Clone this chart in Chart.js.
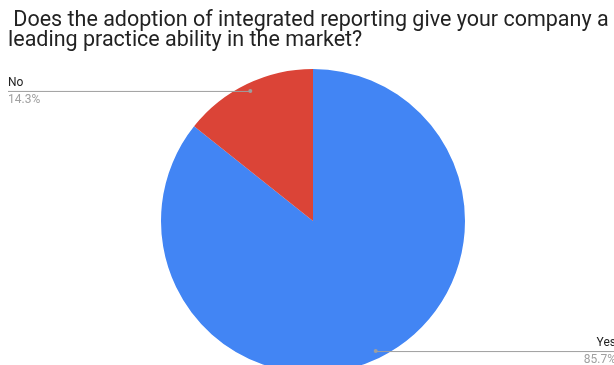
<!DOCTYPE html>
<html>
<head>
<meta charset="utf-8">
<script src="https://cdn.jsdelivr.net/npm/chart.js@4/dist/chart.umd.min.js"></script>
<style>
  body { margin: 0; background: #fff; overflow: hidden; }
  .wrap { position: relative; width: 614px; height: 365px; overflow: hidden; }
  .title {
    position: absolute; left: 8px; top: 9px; width: 660px;
    font-family: Roboto, sans-serif; font-size: 21.5px; line-height: 20px;
    color: #222; white-space: pre;
  }
  canvas { position: absolute; left: 0; top: 0; }
</style>
</head>
<body>
<div class="wrap">
  <canvas id="pie" width="614" height="380"></canvas>
  <div class="title"> Does the adoption of integrated reporting give your company a
leading practice ability in the market?</div>
</div>
<script>
const labels = ['Yes', 'No'];
const values = [85.7, 14.3];
const sliceColors = ['#4285f4', '#db4437'];

// leader lines with label + percentage, like the Google Sheets pie
const leaderLabels = {
  id: 'leaderLabels',
  afterDatasetsDraw(chart) {
    const ctx = chart.ctx;
    const meta = chart.getDatasetMeta(0);
    ctx.save();
    meta.data.forEach((arc, i) => {
      const mid = (arc.startAngle + arc.endAngle) / 2;
      const r = arc.outerRadius * 0.95;
      const px = arc.x + Math.cos(mid) * r;
      const py = arc.y + Math.sin(mid) * r;
      const toLeft = Math.cos(mid) < 0;
      const endX = toLeft ? 8 : chart.width;

      ctx.strokeStyle = '#9e9e9e';
      ctx.lineWidth = 1;
      ctx.beginPath();
      ctx.moveTo(px, py + 0.5);
      ctx.lineTo(endX, py + 0.5);
      ctx.stroke();

      ctx.fillStyle = '#9e9e9e';
      ctx.beginPath();
      ctx.arc(px, py, 2, 0, Math.PI * 2);
      ctx.fill();

      ctx.font = '12px Roboto, sans-serif';
      ctx.textAlign = toLeft ? 'left' : 'right';
      const tx = toLeft ? 8 : chart.width + 2;
      ctx.fillStyle = '#222';
      ctx.textBaseline = 'bottom';
      ctx.fillText(labels[i], tx, py - 2);
      ctx.fillStyle = '#a0a0a0';
      ctx.textBaseline = 'top';
      ctx.fillText(values[i].toFixed(1) + '%', tx, py + 3);
    });
    ctx.restore();
  }
};

new Chart(document.getElementById('pie'), {
  type: 'pie',
  data: {
    labels: labels,
    datasets: [{
      data: values,
      backgroundColor: sliceColors,
      borderWidth: 0
    }]
  },
  options: {
    responsive: false,
    animation: false,
    layout: { padding: { left: 161, right: 149, top: 69, bottom: 7 } },
    plugins: {
      legend: { display: false },
      tooltip: { enabled: false }
    }
  },
  plugins: [leaderLabels]
});
</script>
</body>
</html>
